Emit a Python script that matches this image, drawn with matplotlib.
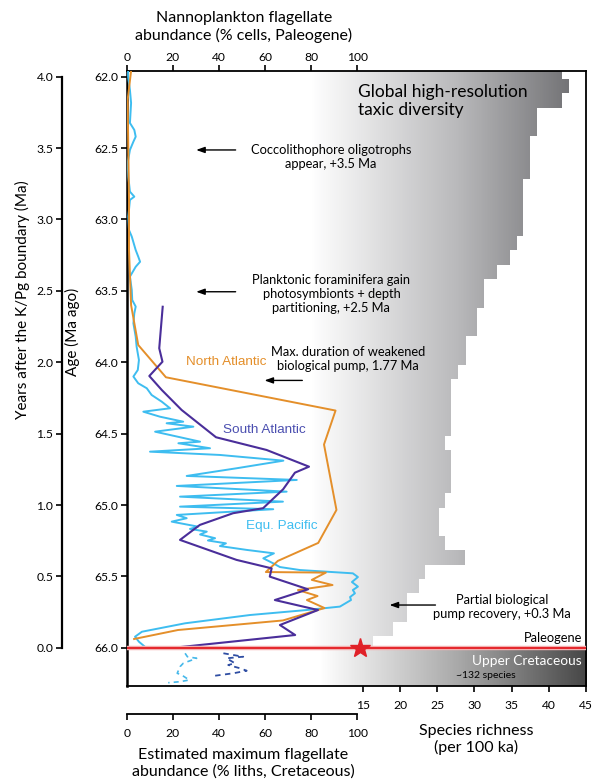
import numpy as np
import matplotlib
matplotlib.use("Agg")
import matplotlib.pyplot as plt
from matplotlib.patches import Polygon
from matplotlib.colors import LinearSegmentedColormap

plt.rcParams['font.family'] = ['Lato', 'DejaVu Sans']

# ---------------- data ----------------
# North Atlantic (% cells) vs age (Ma)
na_age = [61.96, 62.163, 62.864, 63.214, 63.599, 63.879, 64.105, 64.338, 64.576, 65.034,
          65.265, 65.391, 65.469, 65.473, 65.524, 65.56, 65.595, 65.637, 65.665, 65.721,
          65.808, 65.875, 65.938]
na_val = [1.9, 0.4, 1.0, 1.0, 1.9, 5.0, 17.0, 90.5, 85.5, 90.9,
          83.0, 65.5, 60.3, 86.3, 80.2, 89.2, 74.2, 82.7, 78.1, 85.7,
          67.7, 22.2, 3.2]

# South Atlantic
sa_age = [63.611, 63.902, 63.996, 64.096, 64.194, 64.334, 64.525, 64.614, 64.731, 64.773,
          64.889, 65.022, 65.057, 65.139, 65.244, 65.384, 65.443, 65.501, 65.590, 65.665,
          65.735, 65.840, 65.910, 65.996]
sa_val = [15.6, 14.1, 15.5, 9.8, 15.2, 23.8, 38.7, 60.6, 79.0, 72.9,
          67.8, 59.1, 46.1, 31.7, 23.1, 47.6, 62.8, 62.0, 78.6, 64.2,
          82.9, 66.4, 73.0, 22.3]

# Equatorial Pacific
ep_age = [61.96, 62.00, 62.093, 62.184, 62.324, 62.373, 62.42, 62.455, 62.513, 62.604,
          62.70, 62.805, 62.84, 62.863, 62.98, 63.074, 63.12, 63.214, 63.26, 63.296,
          63.331, 63.40, 63.494, 63.564, 63.61, 63.657, 63.727, 63.821, 63.891, 63.984,
          64.054, 64.10, 64.147, 64.182, 64.229, 64.276, 64.322, 64.346, 64.381, 64.416,
          64.427, 64.451, 64.486, 64.556, 64.567, 64.602, 64.626, 64.649, 64.689, 64.742,
          64.796, 64.824, 64.866, 64.906, 64.941, 64.976, 65.011, 65.029, 65.069, 65.092,
          65.116, 65.151, 65.167, 65.186, 65.206, 65.232, 65.248, 65.268, 65.287, 65.314,
          65.338, 65.373, 65.408, 65.434, 65.455, 65.478, 65.504, 65.539, 65.571, 65.595,
          65.618, 65.644, 65.665, 65.686, 65.711, 65.735, 65.77, 65.828, 65.887, 65.922,
          65.957, 65.987]
ep_val = [0.6, 0.6, 1.4, 1.9, 1.4, 3.3, 3.9, 2.9, 1.4, 0.4,
          0.7, 1.4, 3.3, 1.4, 0.7, 1.0, 2.2, 3.9, 5.0, 5.8,
          3.9, 1.4, 2.2, 2.4, 3.9, 3.3, 2.9, 3.9, 4.3, 5.3,
          4.8, 2.9, 5.0, 8.7, 10.8, 15.2, 18.8, 7.2, 14.4, 24.5,
          17.3, 28.9, 12.3, 31.8, 22.4, 36.1, 10.1, 40.4, 67.9, 47.7,
          26.0, 73.7, 21.7, 69.3, 23.1, 67.7, 23.1, 63.5, 21.7, 26.0,
          19.5, 30.9, 27.4, 34.7, 31.8, 38.3, 35.2, 43.0, 40.4, 52.0,
          63.8, 59.2, 63.5, 66.4, 75.1, 98.0, 100.2, 97.6, 100.2, 98.0,
          98.9, 96.8, 97.2, 95.0, 92.4, 78.0, 53.4, 25.3, 6.6, 3.6,
          5.3, 7.5]

# Cretaceous (% liths) dashed records
kp_age = [66.038, 66.062, 66.073, 66.108, 66.132, 66.178, 66.19, 66.225, 66.237, 66.244]
kp_val = [25.3, 26.3, 30.3, 24.5, 23.1, 21.9, 23.8, 27.1, 23.1, 18.0]
ka_age = [66.038, 66.062, 66.073, 66.108, 66.12, 66.143, 66.16, 66.178, 66.195]
ka_val = [41.9, 50.5, 43.3, 46.9, 44.0, 49.1, 52.0, 46.2, 38.3]

# Global diversity (species per 100 ka), bins from K/Pg upward
div_edges = [66.0, 65.917, 65.817, 65.717, 65.617, 65.517, 65.417, 65.317, 65.217, 65.117,
             65.017, 64.917, 64.817, 64.717, 64.617, 64.517, 64.417, 64.317, 64.217, 64.117,
             64.017, 63.917, 63.817, 63.717, 63.617, 63.517, 63.417, 63.317, 63.217, 63.117,
             63.017, 62.917, 62.817, 62.717, 62.617, 62.517, 62.417, 62.317, 62.217, 62.117,
             62.017, 61.917]
div_rich = [16.3, 19.0, 20.9, 20.9, 22.5, 23.3, 28.7, 26.0, 25.2, 25.2,
            26.0, 26.9, 26.9, 26.9, 26.0, 26.9, 26.9, 26.9, 26.9, 27.8,
            28.8, 28.8, 30.4, 30.4, 31.3, 31.3, 33.1, 34.8, 35.7, 36.5,
            36.5, 36.5, 36.5, 37.5, 37.5, 37.5, 38.4, 38.4, 41.8, 42.7,
            41.8]
star_rich = 14.5
kpg_age = 66.0

age_ticks = [62.0, 62.5, 63.0, 63.5, 64.0, 64.5, 65.0, 65.5, 66.0]
yrs_ticks = [0.0, 0.5, 1.0, 1.5, 2.0, 2.5, 3.0, 3.5, 4.0]
ab_ticks = [0, 20, 40, 60, 80, 100]
rich_ticks = [15, 20, 25, 30, 35, 40, 45]

# ---------------- layout ----------------
W, H = 597, 782
fig = plt.figure(figsize=(W / 100, H / 100), dpi=100)

L, R, T, B = 126.7, 585.7, 71, 685.7
ax = fig.add_axes([L / W, 1 - B / H, (R - L) / W, (B - T) / H])
XMAX = 198.9
YTOP, YBOT = 61.96, 66.265
ax.set_xlim(0, XMAX)
ax.set_ylim(YBOT, YTOP)

A15, A45 = 102.5, 198.88
KS = 30.0 / (A45 - A15)

def a2s(a):
    return 15 + (np.asarray(a) - A15) * KS

def s2a(s):
    return A15 + (np.asarray(s) - 15) / KS

# gradients
cmap_p = LinearSegmentedColormap.from_list('p', [(0, 'white'), (0.40, 'white'),
                                                 (0.72, '#b9b9bb'), (1.0, '#69696c')])
cmap_k = LinearSegmentedColormap.from_list('k', [(0, 'white'), (0.42, 'white'),
                                                 (0.72, '#a9a9a9'), (1.0, '#474747')])
grad = np.linspace(0, 1, 512).reshape(1, -1)

# Paleogene diversity step polygon
verts = [(0, div_edges[0])]
for i, r in enumerate(div_rich):
    xa = float(s2a(r))
    verts.append((xa, div_edges[i]))
    verts.append((xa, div_edges[i + 1]))
verts.append((0, div_edges[-1]))
poly = Polygon(verts, closed=True, facecolor='none', edgecolor='none')
ax.add_patch(poly)
im = ax.imshow(grad, extent=(0, XMAX, YBOT, YTOP), aspect='auto', cmap=cmap_p,
               interpolation='bilinear', zorder=0)
im.set_clip_path(poly)

# Cretaceous band
im2 = ax.imshow(grad, extent=(0, XMAX, YBOT, kpg_age), aspect='auto', cmap=cmap_k,
                interpolation='bilinear', zorder=0)
ax.set_xlim(0, XMAX)
ax.set_ylim(YBOT, YTOP)

# lines
c_na, c_sa, c_ep = '#e48f2a', '#4a2e9a', '#3ebdf0'
ax.plot(ep_val, ep_age, color=c_ep, lw=1.4, zorder=3)
ax.plot(na_val, na_age, color=c_na, lw=1.4, zorder=4)
ax.plot(sa_val, sa_age, color=c_sa, lw=1.5, zorder=5)
ax.plot(kp_val, kp_age, color='#45b8ea', lw=1.2, ls=(0, (3, 2.5)), zorder=3)
ax.plot(ka_val, ka_age, color='#2f4ea3', lw=1.3, ls=(0, (3, 2.5)), zorder=3)

# K/Pg line and star
ax.axhline(kpg_age, color='#f3b0b0', lw=3.2, zorder=6)
ax.axhline(kpg_age, color='#e5262b', lw=1.4, zorder=7)
ax.plot([float(s2a(star_rich))], [kpg_age], marker='*', ms=15, color='#e02128',
        mec='#e02128', zorder=8, clip_on=False)

# axes styling
for sp in ax.spines.values():
    sp.set_linewidth(1.3)
ax.spines['left'].set_linewidth(1.8)
ax.xaxis.tick_top()
ax.set_xticks(ab_ticks)
ax.set_xticklabels([str(t) for t in ab_ticks])
ax.set_yticks(age_ticks)
ax.set_yticklabels(['%.1f' % t for t in age_ticks])
ax.tick_params(axis='both', direction='out', length=4, width=1.2, labelsize=8.7, pad=2)
ax.set_ylabel('Age (Ma ago)', fontsize=11)
ax.yaxis.set_label_coords(-0.1017, 0.5754)

sec = ax.secondary_xaxis('bottom', functions=(a2s, s2a))
sec.set_xticks(rich_ticks)
sec.set_xticklabels([str(t) for t in rich_ticks])
sec.tick_params(direction='out', length=4, width=1.2, labelsize=8.7, pad=6)
sec.spines['bottom'].set_visible(False)

# bottom Cretaceous abundance axis
bx = fig.add_axes([L / W, 1 - 714.3 / H, (R - L) / W, 0.0001])
bx.set_xlim(0, XMAX)
for k in ['top', 'left', 'right']:
    bx.spines[k].set_visible(False)
bx.spines['bottom'].set_bounds(0, 100)
bx.spines['bottom'].set_linewidth(1.3)
bx.set_yticks([])
bx.set_xticks(ab_ticks)
bx.set_xticklabels([str(t) for t in ab_ticks])
bx.tick_params(direction='out', length=4, width=1.2, labelsize=8.7, pad=6)
bx.patch.set_alpha(0)

# years-after-boundary axis
yx = fig.add_axes([61.7 / W, 1 - B / H, 0.0001, (B - T) / H])
yx.set_ylim(kpg_age - YBOT, kpg_age - YTOP)
for k in ['top', 'bottom', 'right']:
    yx.spines[k].set_visible(False)
yx.spines['left'].set_bounds(0, 4)
yx.spines['left'].set_linewidth(1.6)
yx.set_xticks([])
yx.set_yticks(yrs_ticks)
yx.set_yticklabels(['%.1f' % t for t in yrs_ticks])
yx.tick_params(direction='out', length=4, width=1.2, labelsize=8.7, pad=2)
yx.patch.set_alpha(0)

# axis titles
fig.text(244 / W, 1 - 27 / H, 'Nannoplankton flagellate\nabundance (% cells, Paleogene)',
         ha='center', va='center', fontsize=11.5, linespacing=1.2)
fig.text(243 / W, 1 - 763.5 / H, 'Estimated maximum flagellate\nabundance (% liths, Cretaceous)',
         ha='center', va='center', fontsize=11.5, linespacing=1.2)
fig.text(476 / W, 1 - 739.5 / H, 'Species richness\n(per 100 ka)',
         ha='center', va='center', fontsize=11.5, linespacing=1.2)
fig.text(22 / W, 1 - 300 / H, 'Years after the K/Pg boundary (Ma)', rotation=90,
         ha='center', va='center', fontsize=11)

# series labels
lab_font = ['Liberation Sans', 'DejaVu Sans']
ax.text(25.7, 63.996, 'North Atlantic', color=c_na, fontsize=9.7, family=lab_font,
        ha='left', va='center', zorder=9)
ax.text(41.6, 64.475, 'South Atlantic', color='#4b4fb0', fontsize=9.7, family=lab_font,
        ha='left', va='center', zorder=9)
ax.text(51.9, 65.147, 'Equ. Pacific', color=c_ep, fontsize=9.7, family=lab_font,
        ha='left', va='center', zorder=9)

# annotations
arrow_kw = dict(arrowstyle='-|>,head_length=0.5,head_width=0.18', color='black', lw=1.0)
afs = 9.3
ax.annotate('', xy=(28.9, 62.513), xytext=(48.4, 62.513), arrowprops=arrow_kw, zorder=9)
ax.text(88.5, 62.56, 'Coccolithophore oligotrophs\nappear, +3.5 Ma', ha='center', va='center',
        fontsize=afs, linespacing=1.2, zorder=9)
ax.annotate('', xy=(28.9, 63.506), xytext=(48.4, 63.506), arrowprops=arrow_kw, zorder=9)
ax.text(88.7, 63.52, 'Planktonic foraminifera gain\nphotosymbionts + depth\npartitioning, +2.5 Ma',
        ha='center', va='center', fontsize=afs, linespacing=1.2, zorder=9)
ax.annotate('', xy=(58.5, 64.127), xytext=(77.3, 64.127), arrowprops=arrow_kw, zorder=9)
ax.text(95.9, 63.98, 'Max. duration of weakened\nbiological pump, 1.77 Ma', ha='center',
        va='center', fontsize=afs, linespacing=1.2, zorder=9)
ax.annotate('', xy=(112.7, 65.70), xytext=(135.0, 65.70), arrowprops=arrow_kw, zorder=9)
ax.text(162.5, 65.717, 'Partial biological\npump recovery, +0.3 Ma', ha='center', va='center',
        fontsize=afs, linespacing=1.2, zorder=9)
ax.text(100.3, 62.169, 'Global high-resolution\ntaxic diversity', ha='left', va='center',
        fontsize=12.5, linespacing=1.2, zorder=9)
ax.text(197.3, 65.933, 'Paleogene', ha='right', va='center', fontsize=9.3, zorder=9)
ax.text(197.3, 66.09, 'Upper Cretaceous', ha='right', va='center', fontsize=9.8, color='white', zorder=9)
ax.text(155.5, 66.197, '~132 species', ha='center', va='center', fontsize=7.5, zorder=9)

fig.savefig('out.png', dpi=100)
